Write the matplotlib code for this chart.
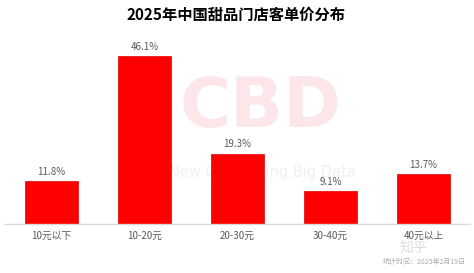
import matplotlib.pyplot as plt

plt.rcParams['font.family'] = ['Noto Sans CJK SC', 'DejaVu Sans']

# 数据
categories = ['10元以下', '10-20元', '20-30元', '30-40元', '40元以上']
shares = [11.8, 46.1, 19.3, 9.1, 13.7]
title = '2025年中国甜品门店客单价分布'
note = '统计时间：2025年2月19日'

fig = plt.figure(figsize=(4.74, 2.73), dpi=100)
ax = fig.add_axes([5 / 474, 49 / 273, 465 / 474, 182 / 273])

# 水印 (放在柱子下面)
ax.text(260 / 474, 1 - 108 / 273, 'CBD', fontsize=50, fontweight='bold', color='#fde6e9',
        ha='center', va='center', family='DejaVu Sans', transform=fig.transFigure, zorder=1)
ax.text(262 / 474, 1 - 173 / 273, 'New Consuming Big Data', fontsize=10.5, color='#f0f0f0',
        ha='center', va='center', family='DejaVu Sans', transform=fig.transFigure, zorder=1)

bars = ax.bar(range(len(categories)), shares, width=0.57, color='#ff0000',
              edgecolor='#e00000', linewidth=0.5, zorder=2)
for b, v in zip(bars, shares):
    ax.text(b.get_x() + b.get_width() / 2, v + 1.2, '%.1f%%' % v,
            ha='center', va='bottom', fontsize=7, color='#595959', zorder=3)

ax.set_xlim(-0.5, 4.5)
ax.set_ylim(0, 50)
ax.set_xticks(range(len(categories)))
ax.set_xticklabels(categories, fontsize=7, color='#595959')
ax.tick_params(axis='x', length=0, pad=5)
ax.set_yticks([])
for s in ['top', 'right', 'left']:
    ax.spines[s].set_visible(False)
ax.spines['bottom'].set_color('#d9d9d9')
ax.spines['bottom'].set_linewidth(1)
ax.patch.set_alpha(0)

fig.text(236 / 474, 1 - 15 / 273, title, fontsize=11, fontweight='bold',
         ha='center', va='center', color='#000000')
fig.text(400 / 474, 1 - 249 / 273, '知乎', fontsize=10, color='#dddddd',
         ha='left', va='center')
fig.text(466 / 474, 1 - 262 / 273, note, fontsize=5, color='#aaaaaa',
         ha='right', va='center')

fig.savefig('out.png', dpi=100)
